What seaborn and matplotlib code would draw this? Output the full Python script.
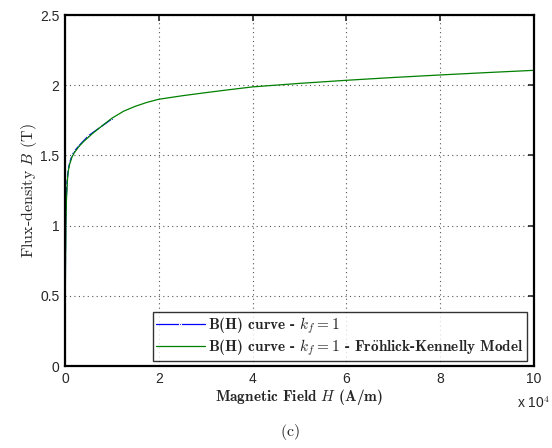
import numpy as np
import pandas as pd
import matplotlib
matplotlib.use('Agg')
import matplotlib.pyplot as plt
import seaborn as sns

sns.set_style('white')
plt.rcParams['font.family'] = ['Liberation Sans', 'DejaVu Sans']
plt.rcParams['mathtext.fontset'] = 'cm'
bold_cm = ['cmb10', 'DejaVu Serif']
reg_cm = ['cmr10', 'DejaVu Serif']

# measured B(H) points (blue, with markers)
h_meas = [0, 50, 100, 150, 200, 300, 400, 500, 700, 1000, 1500, 2000, 3000, 5000, 7500, 10000]
b_meas = [0, 0.40, 0.80, 1.00, 1.10, 1.21, 1.29, 1.34, 1.40, 1.45, 1.50, 1.53, 1.57, 1.64, 1.70, 1.76]

# Frohlich-Kennelly model curve (green)
h_fk = [0, 50, 100, 200, 300, 500, 700, 1000, 1500, 2000, 3000, 4000, 5000, 6000, 7500,
        10000, 12500, 15000, 17500, 20000, 25000, 30000, 35000, 40000, 50000,
        60000, 70000, 80000, 90000, 100000]
b_fk = [0, 0.45, 0.72, 1.04, 1.18, 1.32, 1.39, 1.44, 1.49, 1.52, 1.565, 1.60, 1.63, 1.66, 1.70,
        1.765, 1.815, 1.85, 1.878, 1.90, 1.925, 1.947, 1.968, 1.988, 2.013,
        2.035, 2.055, 2.073, 2.09, 2.106]

xticks = [0, 20000, 40000, 60000, 80000, 100000]
xtick_labels = ['0', '2', '4', '6', '8', '10']
yticks = [0, 0.5, 1, 1.5, 2, 2.5]
ytick_labels = ['0', '0.5', '1', '1.5', '2', '2.5']

meas = pd.DataFrame({'H': h_meas, 'B': b_meas})
fk = pd.DataFrame({'H': h_fk, 'B': b_fk})

fig = plt.figure(figsize=(5.52, 4.48), dpi=100)
ax = fig.add_axes([0.1178, 0.183, 0.8496, 0.7835])

sns.lineplot(data=meas, x='H', y='B', ax=ax, color='#0000ff', lw=0.9, marker='.',
             markersize=3, sort=False, label=r'B(H) curve - $k_f = 1$')
sns.lineplot(data=fk, x='H', y='B', ax=ax, color='#008000', lw=0.9, sort=False,
             label=r'B(H) curve - $k_f = 1$ - Fr$\ddot{\mathbf{o}}$hlick-Kennelly Model')

ax.set_xlim(0, 100000)
ax.set_ylim(0, 2.5)
ax.set_xticks(xticks)
ax.set_xticklabels(xtick_labels)
ax.set_yticks(yticks)
ax.set_yticklabels(ytick_labels)
ax.tick_params(direction='in', top=True, right=True, length=4, width=1.2, labelsize=10, pad=4)
ax.grid(True, linestyle=(0, (1, 3)), color='#555555', lw=0.8)
for s in ax.spines.values():
    s.set_linewidth(1.6)
    s.set_color('black')

ax.set_xlabel(r'Magnetic Field $H$ (A/m)', fontsize=11, labelpad=1, family=bold_cm)
ax.set_ylabel(r'Flux-density $B$ (T)', fontsize=11.5, labelpad=1, family=reg_cm)
ax.text(1.0, -0.085, r'x 10$^4$', transform=ax.transAxes, fontsize=10, ha='center', va='top')
fig.text(0.525, 0.035, r'$\mathrm{(c)}$', fontsize=11.5, ha='center', va='center')

leg = ax.legend(loc='lower right', bbox_to_anchor=(0.985, 0.015),
                frameon=True, fancybox=False, edgecolor='black', borderpad=0.2,
                handlelength=3.2, handletextpad=0.25, labelspacing=0.1, borderaxespad=0,
                prop={'family': bold_cm, 'size': 11})
leg.get_frame().set_linewidth(1.0)

fig.savefig('out.png', dpi=100)
